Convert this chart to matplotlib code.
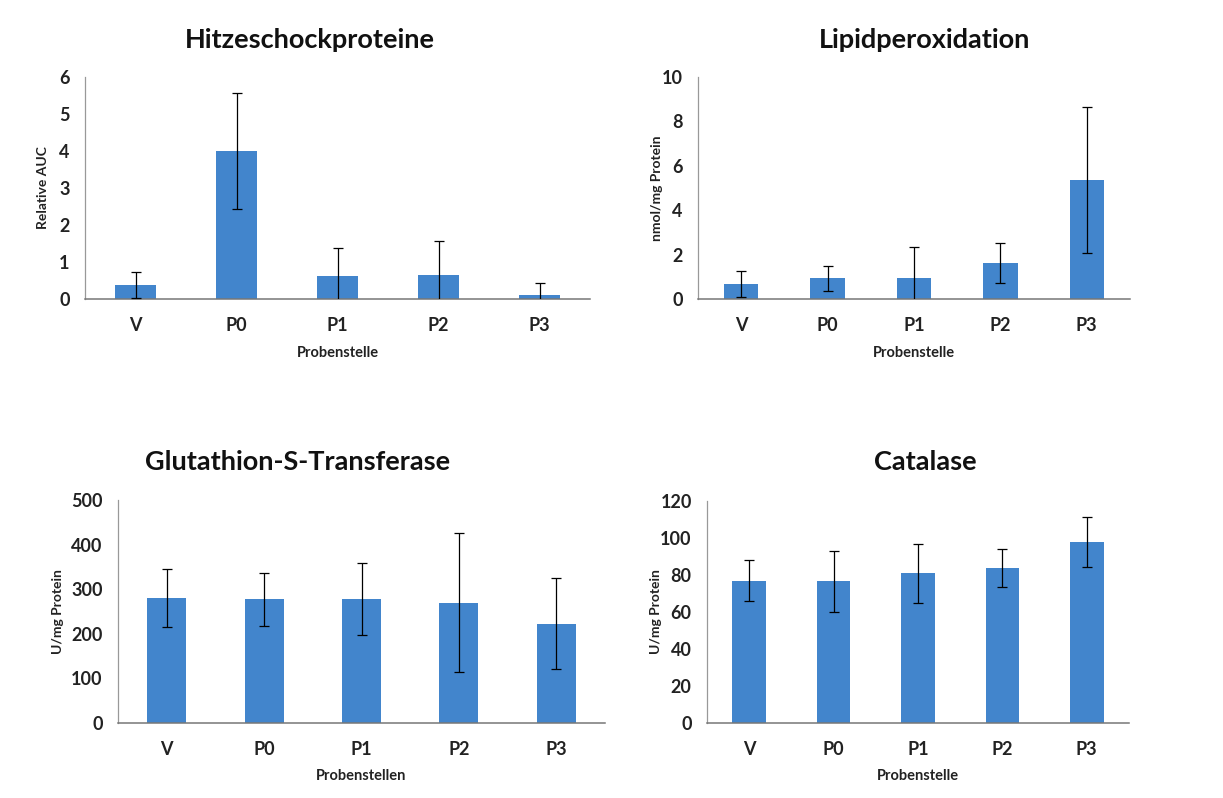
import matplotlib
matplotlib.use("Agg")
import matplotlib.pyplot as plt

plt.rcParams['font.family'] = ['Lato', 'DejaVu Sans']

categories = ["V", "P0", "P1", "P2", "P3"]

hsp_values = [0.38, 4.0, 0.63, 0.66, 0.12]
hsp_errors = [0.35, 1.57, 0.74, 0.92, 0.31]

lpo_values = [0.68, 0.93, 0.93, 1.64, 5.36]
lpo_errors = [0.60, 0.56, 1.39, 0.90, 3.28]

gst_values = [280, 277, 278, 270, 222]
gst_errors = [65, 60, 80, 156, 102]

cat_values = [77, 76.5, 81, 84, 98]
cat_errors = [11, 16.5, 16, 10.3, 13.5]

panels = [
    dict(title="Hitzeschockproteine", vals=hsp_values, errs=hsp_errors,
         ylabel="Relative AUC", xlabel="Probenstelle", ylim=(0, 6), step=1,
         rect=[85, 77, 590, 299], title_xy=(310, 40), ylab_x=43, xlab_y=353),
    dict(title="Lipidperoxidation", vals=lpo_values, errs=lpo_errors,
         ylabel="nmol/mg Protein", xlabel="Probenstelle", ylim=(0, 10), step=2,
         rect=[698, 77, 1130, 299], title_xy=(925, 40), ylab_x=657, xlab_y=353),
    dict(title="Glutathion-S-Transferase", vals=gst_values, errs=gst_errors,
         ylabel="U/mg Protein", xlabel="Probenstellen", ylim=(0, 500), step=100,
         rect=[118, 500, 605, 723], title_xy=(298, 462), ylab_x=58, xlab_y=776),
    dict(title="Catalase", vals=cat_values, errs=cat_errors,
         ylabel="U/mg Protein", xlabel="Probenstelle", ylim=(0, 120), step=20,
         rect=[707, 501, 1129, 723], title_xy=(925, 462), ylab_x=656, xlab_y=776),
]

W, H = 1223, 798
fig = plt.figure(figsize=(W / 100, H / 100), dpi=100)
bar_color = "#4285CC"

for p in panels:
    x0, y0, x1, y1 = p["rect"]
    ax = fig.add_axes([x0 / W, 1 - y1 / H, (x1 - x0) / W, (y1 - y0) / H])
    xs = list(range(len(categories)))
    ax.bar(xs, p["vals"], width=0.4, color=bar_color, zorder=2)
    ax.errorbar(xs, p["vals"], yerr=p["errs"], fmt="none", ecolor="black",
                elinewidth=0.9, capsize=3.5, capthick=0.9, zorder=3, clip_on=True)
    ax.set_xlim(-0.5, len(categories) - 0.5)
    ax.set_ylim(*p["ylim"])
    lo, hi = p["ylim"]
    ticks = list(range(int(lo), int(hi) + 1, p["step"]))
    ax.set_yticks(ticks)
    ax.set_yticklabels([str(t) for t in ticks], fontsize=13, fontweight="bold", color="#222222")
    ax.set_xticks(xs)
    ax.set_xticklabels(categories, fontsize=13, fontweight="bold", color="#222222")
    ax.tick_params(axis="both", length=0)
    ax.tick_params(axis="x", pad=13)
    ax.tick_params(axis="y", pad=11)
    for s in ["top", "right"]:
        ax.spines[s].set_visible(False)
    ax.spines["left"].set_color("#999999")
    ax.spines["bottom"].set_color("#777777")
    ax.spines["left"].set_linewidth(0.9)
    ax.spines["bottom"].set_linewidth(1.1)
    ax.set_facecolor("white")
    tx, ty = p["title_xy"]
    fig.text(tx / W, 1 - ty / H, p["title"], fontsize=19.5, fontweight="bold",
             ha="center", va="center", color="#111111")
    fig.text(p["ylab_x"] / W, 1 - ((y0 + y1) / 2) / H, p["ylabel"], rotation=90,
             fontsize=10, fontweight="bold", ha="center", va="center", color="#222222")
    fig.text(((x0 + x1) / 2) / W, 1 - p["xlab_y"] / H, p["xlabel"],
             fontsize=10.5, fontweight="bold", ha="center", va="center", color="#222222")

fig.savefig("out.png", dpi=100, facecolor="white")
